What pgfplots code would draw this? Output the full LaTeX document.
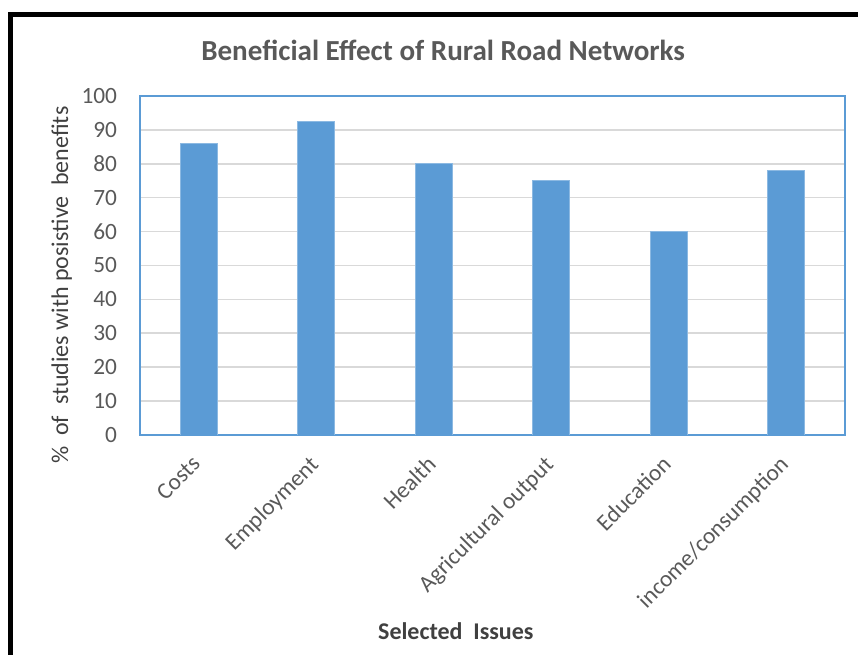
\documentclass[border=0pt]{standalone}
\usepackage{fontspec}
\setmainfont{Carlito}
\usepackage{pgfplots}
\pgfplotsset{compat=1.18}
\definecolor{barblue}{HTML}{5B9BD5}
\definecolor{txtgray}{HTML}{595959}
\definecolor{darkgray}{HTML}{404040}
\definecolor{gridgray}{HTML}{D9D9D9}
\begin{document}
\begin{tikzpicture}[x=0.75pt,y=0.75pt]
\useasboundingbox (0,0) rectangle (858,655);
\draw[line width=3.2pt,black] (10.5,-20) -- (10.5,640.5) -- (900,640.5);
\begin{axis}[
  at={(105pt,165pt)}, anchor=south west,
  scale only axis,
  width=528.75pt, height=254.25pt,
  xmin=-0.5, xmax=5.5,
  ymin=0, ymax=100,
  ytick={0,10,...,100},
  xtick={0,1,2,3,4,5},
  xticklabels={Costs,Employment,Health,Agricultural output,Education,income/consumption},
  major tick length=0pt,
  axis line style={barblue, line width=1.3pt},
  ymajorgrids,
  grid style={gridgray, line width=1.2pt},
  /pgf/number format/assume math mode=true,
  tick label style={font=\fontsize{17.5}{20}\selectfont, text=txtgray},
  yticklabel style={inner sep=0pt, xshift=-17pt},
  xticklabel style={rotate=45, anchor=north east, inner sep=0pt, xshift=-14.5pt, yshift=-6pt},
  title={Beneficial Effect of Rural Road Networks},
  title style={at={(rel axis cs:0.43,1.11)}, anchor=center, font=\fontsize{21.8}{26}\selectfont\bfseries, text=txtgray},
  xlabel={Selected\ \ Issues},
  xlabel style={at={(rel axis cs:0.448,-0.578)}, anchor=center, font=\fontsize{18}{22}\selectfont\bfseries, text=darkgray},
  ylabel={\%\ \ of\ \ studies with posistive\ \ benefits},
  ylabel style={at={(rel axis cs:-0.111,0.442)}, anchor=center, rotate=0, font=\fontsize{18}{22}\selectfont, text=darkgray},
]
\addplot[ybar, bar width=27.75pt, fill=barblue, draw=barblue!70!white, line width=0.6pt]
  coordinates {(0,86) (1,92.5) (2,80) (3,75) (4,60) (5,78)};
\end{axis}
\end{tikzpicture}
\end{document}
